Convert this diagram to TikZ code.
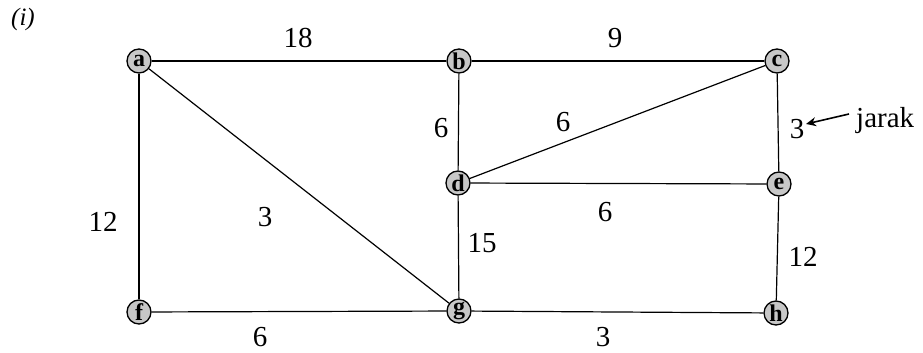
\documentclass[tikz,border=0pt]{standalone}
\usepackage{fontspec}
\setmainfont{Liberation Serif}
\usetikzlibrary{arrows.meta}
\begin{document}
\begin{tikzpicture}[x=1pt,y=-1pt,
  vtx/.style={circle,draw=black,line width=1.3pt,fill=black!22,minimum size=24pt,inner sep=0pt,font=\fontsize{24}{24}\selectfont\bfseries},
  lbl/.style={inner sep=0pt,font=\fontsize{29}{29}\selectfont},
  edge/.style={line width=1.2pt}]
\useasboundingbox (0,0) rectangle (923,353);
\node[vtx] (a) at (139,61) {a};
\node[vtx] (b) at (459,61) {b};
\node[vtx] (c) at (777,61) {c};
\node[vtx] (d) at (458,183) {d};
\node[vtx] (e) at (779,184) {e};
\node[vtx] (f) at (139,312) {f};
\node[vtx] (g) at (459,311) {g};
\node[vtx] (h) at (776,313) {h};
\draw[edge] (a) -- (b);
\draw[edge] (b) -- (c);
\draw[edge] (a) -- (f);
\draw[edge] (a) -- (g);
\draw[edge] (b) -- (d);
\draw[edge] (d) -- (c);
\draw[edge] (c) -- (e);
\draw[edge] (d) -- (e);
\draw[edge] (d) -- (g);
\draw[edge] (e) -- (h);
\draw[edge] (f) -- (g);
\draw[edge] (g) -- (h);
\node[lbl,font=\fontsize{25}{25}\selectfont\itshape] (ti) at (23,19) {(i)};
\node[lbl] (l1) at (298,38) {18};
\node[lbl] (l2) at (615,38) {9};
\node[lbl] (l3) at (441,128) {6};
\node[lbl] (l4) at (563,122) {6};
\node[lbl] (l5) at (797,129) {3};
\node[lbl,anchor=base west] (jk) at (856,127) {jarak};
\node[lbl] (l6) at (103,222) {12};
\node[lbl] (l7) at (265,217) {3};
\node[lbl] (l8) at (605,212) {6};
\node[lbl] (l9) at (482,243) {15};
\node[lbl] (l10) at (803,257) {12};
\node[lbl] (l11) at (260,337) {6};
\node[lbl] (l12) at (603,337) {3};
\coordinate (tail) at (849,114);
\coordinate (tip) at (806,124);
\draw[line width=1.6pt,-{Stealth[length=10pt,width=9pt]}] (tail) -- (tip);
\end{tikzpicture}
\end{document}
